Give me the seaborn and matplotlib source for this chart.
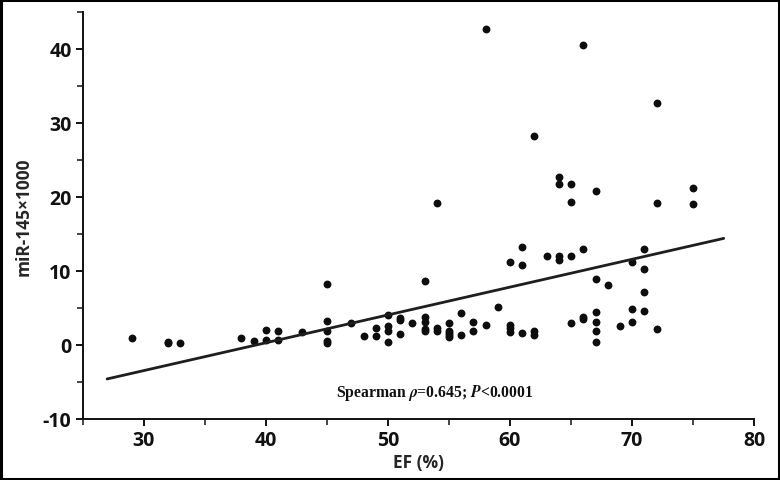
"""
EF vs miR-145 scatter with linear trend (Spearman annotation).
"""

import matplotlib

matplotlib.use("Agg")
import matplotlib.pyplot as plt
import numpy as np
import pandas as pd
import seaborn as sns
from matplotlib.patches import Rectangle
from matplotlib.ticker import MultipleLocator

# ---------------------------------------------------------------------------
# Data
# ---------------------------------------------------------------------------
ef = [
    29, 32, 32, 33, 38, 39, 40, 40, 41, 41, 43,
    45, 45, 45, 45, 45, 47, 48, 49, 49,
    50, 50, 50, 50, 51, 51, 51, 52,
    53, 53, 53, 53, 53, 54, 54, 54,
    55, 55, 55, 55, 55, 56, 56, 57, 57, 58, 58, 59,
    60, 60, 60, 60, 61, 61, 61, 62, 62, 62, 63,
    64, 64, 64, 64, 65, 65, 65, 65, 66, 66, 66, 66,
    67, 67, 67, 67, 67, 67, 68, 69, 70, 70, 70,
    71, 71, 71, 71, 72, 72, 72, 75, 75,
]
mir145 = [
    1.0, 0.4, 0.2, 0.25, 0.95, 0.55, 2.0, 0.6, 1.9, 0.6, 1.8,
    8.3, 3.3, 1.9, 0.5, 0.2, 2.9, 1.2, 2.25, 1.2,
    4.05, 2.6, 1.9, 0.4, 3.7, 3.4, 1.5, 2.9,
    8.7, 3.8, 3.1, 2.2, 1.9, 19.2, 2.35, 1.85,
    2.9, 1.9, 1.6, 1.3, 1.1, 4.3, 1.35, 3.15, 1.9, 42.7, 2.7, 5.1,
    11.2, 2.75, 2.25, 1.75, 13.2, 10.8, 1.6, 28.3, 1.9, 1.35, 12.0,
    22.7, 21.8, 12.0, 11.5, 21.8, 19.3, 12.0, 2.9, 40.6, 13.0, 3.8, 3.5,
    20.8, 8.9, 4.4, 3.05, 1.9, 0.4, 8.1, 2.6, 11.2, 4.85, 3.05,
    13.0, 10.3, 7.1, 4.55, 32.7, 19.2, 2.2, 21.2, 19.1,
]

# fitted trend line as drawn in the figure (end points)
fit_ef = [27.0, 77.5]
fit_mir = [-4.6, 14.4]

annotation = r"Spearman $\mathbfit{\rho}$=0.645; $\mathbfit{P}$<0.0001"

df = pd.DataFrame({"EF": ef, "miR": mir145})
fit = pd.DataFrame({"EF": fit_ef, "miR": fit_mir})

# ---------------------------------------------------------------------------
# Plot
# ---------------------------------------------------------------------------
sns.set_theme(style="ticks")
plt.rcParams["font.family"] = ["Open Sans", "DejaVu Sans"]
plt.rcParams["mathtext.fontset"] = "stix"
plt.rcParams["axes.unicode_minus"] = False

fig = plt.figure(figsize=(7.8, 4.81), dpi=100)
ax = fig.add_axes([0.106, 0.127, 0.861, 0.846])

sns.scatterplot(data=df, x="EF", y="miR", ax=ax, color="#0d0d0d",
                s=32, linewidth=0, legend=False)
sns.lineplot(data=fit, x="EF", y="miR", ax=ax, color="#1e1e1e",
             linewidth=2.0, sort=False)

ax.set_xlim(25, 80)
ax.set_ylim(-10, 45)
ax.xaxis.set_minor_locator(MultipleLocator(5))
ax.yaxis.set_minor_locator(MultipleLocator(5))
ax.set_xticks([30, 40, 50, 60, 70, 80])
ax.set_yticks([-10, 0, 10, 20, 30, 40])

ax.tick_params(axis="both", which="major", direction="out", length=5,
               width=1.4, labelsize=14, colors="#111111", pad=3)
ax.tick_params(axis="both", which="minor", direction="out", length=4,
               width=1.2)
for lab in ax.get_xticklabels() + ax.get_yticklabels():
    lab.set_fontweight("bold")

ax.set_xlabel("EF (%)", fontsize=12.5, fontweight="bold", labelpad=2)
ax.set_ylabel("miR-145\u00d71000", fontsize=12.5, fontweight="bold",
              labelpad=7)

for side in ("top", "right"):
    ax.spines[side].set_visible(False)
for side in ("left", "bottom"):
    ax.spines[side].set_linewidth(1.4)
    ax.spines[side].set_color("#111111")

ax.text(53.8, -6.35, annotation, ha="center", va="center",
        fontsize=11.3, fontweight="bold", color="#111111",
        family=["Liberation Serif", "DejaVu Serif"])

# black frame around the whole image
fig.patches.append(Rectangle((0.0015, 0.002), 0.997, 0.996,
                             transform=fig.transFigure, fill=False,
                             edgecolor="black", linewidth=2.2))

fig.savefig("out.png", dpi=100)
plt.close(fig)
